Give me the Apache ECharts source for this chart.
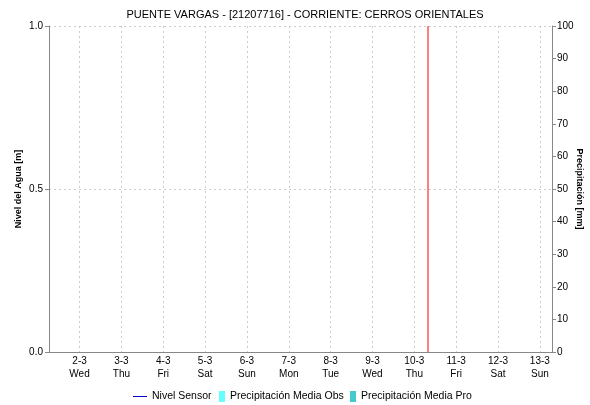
<!DOCTYPE html>
<html>
<head>
<meta charset="utf-8">
<script src="https://cdn.jsdelivr.net/npm/echarts@6/dist/echarts.min.js"></script>
<style>
  html, body { margin: 0; padding: 0; background: #fff; }
  #chart { width: 590px; height: 405px; }
</style>
</head>
<body>
<div id="chart"></div>
<script>
  // dias de marzo 2022
  const days = [2, 3, 4, 5, 6, 7, 8, 9, 10, 11, 12, 13];
  const weekdays = ['Wed', 'Thu', 'Fri', 'Sat', 'Sun', 'Mon', 'Tue', 'Wed', 'Thu', 'Fri', 'Sat', 'Sun'];
  const xRange = [1.27, 13.29];
  const nivelSensor = [];
  const precipObs = [];
  const precipPro = [];
  const nowMark = [10.33];

  const font = 'Liberation Sans, Arial, sans-serif';
  const chart = echarts.init(document.getElementById('chart'));

  const legendText = { fontSize: 10.5, color: '#000', fontFamily: font };

  chart.setOption({
    animation: false,
    textStyle: { fontFamily: font },
    title: {
      text: 'PUENTE VARGAS - [21207716] - CORRIENTE: CERROS ORIENTALES',
      left: 300, top: 4, textAlign: 'center',
      textStyle: { fontSize: 11, fontWeight: 'normal', color: '#000', fontFamily: font }
    },
    grid: { left: 49, right: 38, top: 26, bottom: 53, outerBoundsMode: 'none' },
    // una leyenda por item para controlar el ancho de cada icono
    legend: [{
      left: 133, top: 391, itemWidth: 14, itemHeight: 11, padding: 0,
      textStyle: legendText,
      data: [{ name: 'Nivel Sensor', icon: 'path://M0,0H14V1H0Z' }]
    }, {
      left: 219, top: 391, itemWidth: 6, itemHeight: 11, padding: 0,
      textStyle: legendText,
      data: [{ name: 'Precipitación Media Obs', icon: 'rect' }]
    }, {
      left: 350, top: 391, itemWidth: 6, itemHeight: 11, padding: 0,
      textStyle: legendText,
      data: [{ name: 'Precipitación Media Pro', icon: 'rect' }]
    }],
    xAxis: [{
      type: 'value', min: xRange[0], max: xRange[1],
      axisLine: { lineStyle: { color: '#666', type: 'dotted', width: 1 } },
      axisTick: { show: false, customValues: days },
      splitLine: { show: true, lineStyle: { color: '#ccc', type: [2, 3] } },
      axisLabel: {
        customValues: days,
        fontSize: 10, color: '#000', lineHeight: 13, margin: 3,
        formatter: v => v + '-3\n' + weekdays[days.indexOf(v)]
      }
    }, {
      type: 'value', position: 'top', min: xRange[0], max: xRange[1],
      axisLine: { show: true, lineStyle: { color: '#888' } },
      axisTick: { show: false }, axisLabel: { show: false }, splitLine: { show: false }
    }],
    yAxis: [{
      type: 'value', min: 0, max: 1, interval: 0.5,
      name: 'Nivel del Agua [m]', nameLocation: 'middle', nameGap: 26, nameRotate: 90,
      nameMoveOverlap: false,
      nameTextStyle: { fontSize: 9, fontWeight: 'bold', color: '#000' },
      axisLine: { show: true, lineStyle: { color: '#888' } },
      axisTick: { show: true, length: 4, lineStyle: { color: '#888' } },
      splitLine: { show: true, lineStyle: { color: '#ccc', type: [2, 3] } },
      axisLabel: { fontSize: 10, color: '#000', margin: 6, formatter: v => v.toFixed(1) }
    }, {
      type: 'value', min: 0, max: 100, interval: 10, position: 'right',
      name: 'Precipitación [mm]', nameLocation: 'middle', nameGap: 23, nameRotate: -90,
      nameMoveOverlap: false,
      nameTextStyle: { fontSize: 9, fontWeight: 'bold', color: '#000' },
      axisLine: { show: true, lineStyle: { color: '#888' } },
      axisTick: { show: true, length: 4, lineStyle: { color: '#888' } },
      splitLine: { show: false },
      axisLabel: { fontSize: 10, color: '#000', margin: 5 }
    }],
    series: [{
      name: 'Nivel Sensor', type: 'line', symbol: 'none',
      itemStyle: { color: '#0000cc' }, lineStyle: { color: '#0000cc', width: 1 },
      data: nivelSensor,
      markLine: {
        silent: true, symbol: 'none', label: { show: false },
        lineStyle: { color: '#ff5555', type: 'solid', width: 1.5 },
        data: nowMark.map(v => ({ xAxis: v }))
      }
    }, {
      name: 'Precipitación Media Obs', type: 'bar', yAxisIndex: 1,
      itemStyle: { color: '#66ffff' }, data: precipObs
    }, {
      name: 'Precipitación Media Pro', type: 'bar', yAxisIndex: 1,
      itemStyle: { color: '#44cccc' }, data: precipPro
    }]
  });
</script>
</body>
</html>
